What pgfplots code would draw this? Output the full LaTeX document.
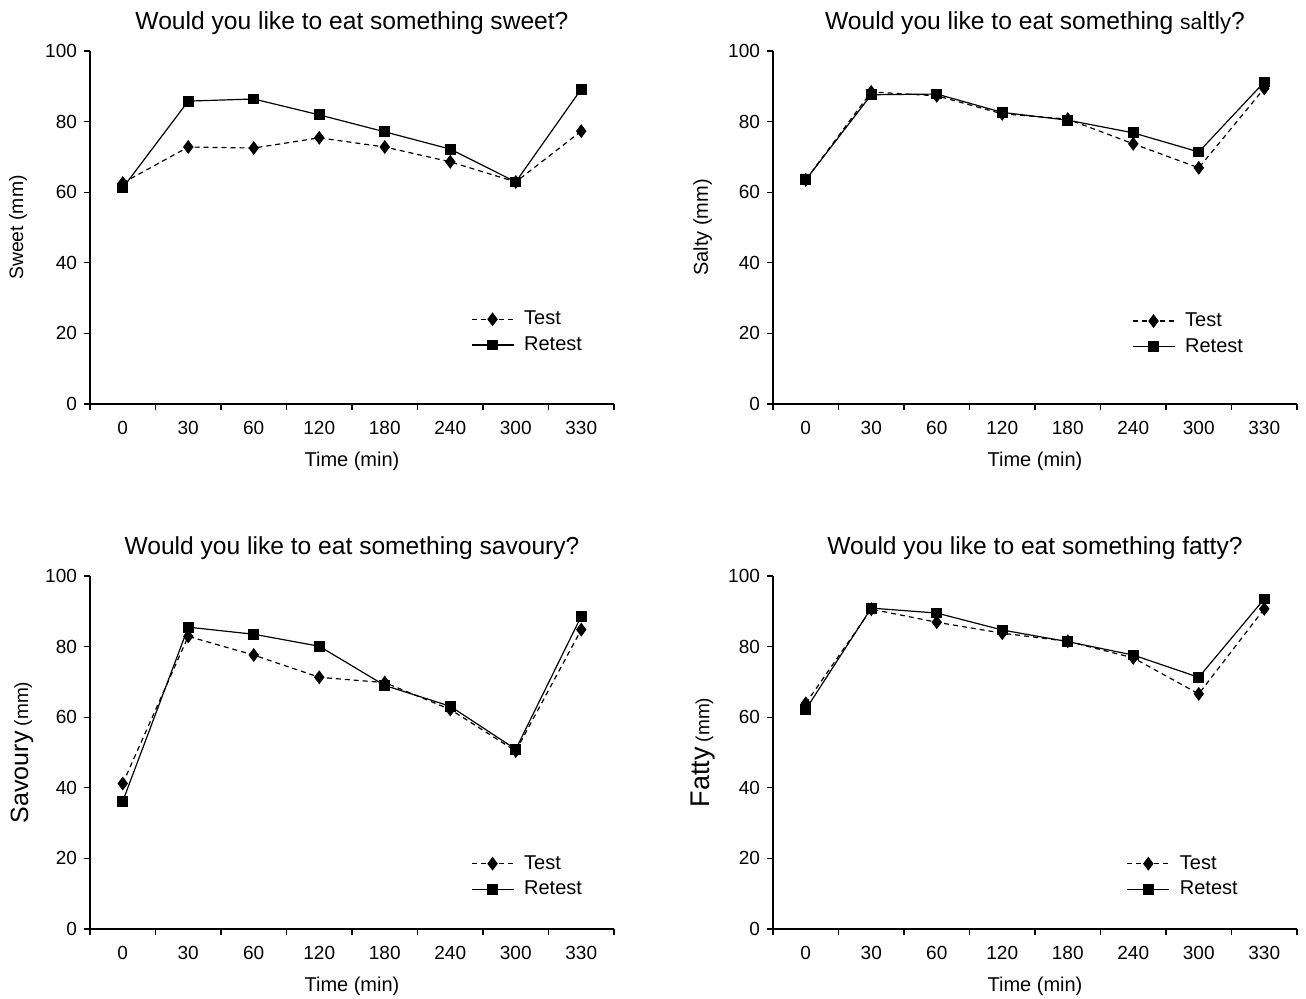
\documentclass[border=0pt]{standalone}
\usepackage{fontspec}
\setmainfont{Liberation Sans}
\usepackage{pgfplots}
\usepackage{pgfplotstable}
\pgfplotsset{compat=1.18}

% x: category index (0=0 min, 1=30, 2=60, 3=120, 4=180, 5=240, 6=300, 7=330), plotted at index+0.5
\pgfplotstableread{
x    test  retest
0.5  62.6  61.2
1.5  72.8  85.8
2.5  72.5  86.4
3.5  75.4  81.9
4.5  72.8  77.1
5.5  68.6  72.2
6.5  62.9  62.9
7.5  77.3  89.2
}\sweet
\pgfplotstableread{
x    test  retest
0.5  63.5  63.5
1.5  88.4  87.6
2.5  87.3  87.8
3.5  82.2  82.6
4.5  80.7  80.4
5.5  73.7  76.8
6.5  66.9  71.4
7.5  89.4  91.2
}\salty
\pgfplotstableread{
x    test  retest
0.5  41.2  36.2
1.5  82.9  85.5
2.5  77.6  83.5
3.5  71.3  80.1
4.5  69.8  69.0
5.5  62.2  63.1
6.5  50.4  50.9
7.5  84.8  88.6
}\savoury
\pgfplotstableread{
x    test  retest
0.5  63.9  62.2
1.5  90.6  90.9
2.5  86.9  89.5
3.5  83.8  84.7
4.5  81.5  81.4
5.5  76.8  77.6
6.5  66.6  71.3
7.5  90.7  93.5
}\fatty

\pgfplotsset{
  panel/.style={
    scale only axis, width=262pt, height=176.5pt,
    xmin=0, xmax=8, ymin=0, ymax=100,
    axis x line*=bottom, axis y line*=left,
    axis line style={black, line width=0.6pt, -},
    xtick={0.5,1.5,...,7.5},
    xticklabels={0,30,60,120,180,240,300,330},
    minor xtick={0,1,...,8},
    ytick={0,20,...,100},
    tick align=outside,
    major tick length=3pt, minor tick length=3pt,
    major x tick style={draw=none},
    minor x tick style={black, line width=0.6pt},
    major y tick style={black, line width=0.6pt},
    /pgf/number format/assume math mode=true,
    tick label style={font=\fontsize{9.5}{11}\selectfont},
    xticklabel style={yshift=-2pt},
    xlabel={Time (min)},
    xlabel style={at={(axis description cs:0.5,-0.162)}, anchor=center, font=\fontsize{10}{12}\selectfont},
    title style={at={(axis description cs:0.5,1)}, anchor=center, yshift=8pt, font=\fontsize{12.3}{14}\selectfont},
    legend cell align=left,
    legend style={draw=none, fill=none, inner sep=0pt, outer sep=0pt, anchor=north west,
      font=\fontsize{10}{12}\selectfont, row sep=0.5pt, column sep=3pt,
      nodes={inner sep=2pt}},
    legend image code/.code={\draw[mark repeat=2,mark phase=2,#1] plot coordinates {(0pt,0pt)(10.5pt,0pt)(21pt,0pt)};},
    clip=false,
  },
  test/.style={black, line width=0.6pt, dash pattern=on 2.5pt off 2pt, mark=diamond*, mark size=3pt, mark options={solid, fill=black}},
  retest/.style={black, line width=0.6pt, solid, mark=square*, mark size=2.4pt, mark options={solid, fill=black}},
}

\begin{document}
\begin{tikzpicture}
\useasboundingbox (0,0) rectangle (653pt,499.5pt);

% Top-left: sweet
\begin{axis}[panel, at={(45pt,297.5pt)}, anchor=south west,
  title={Would you like to eat something sweet?},
  ylabel={Sweet (mm)},
  ylabel style={at={(axis description cs:-0.137,0.5)}, anchor=center, font=\fontsize{9.7}{12}\selectfont},
  legend style={at={(axis description cs:0.727,0.275)}}]
\addplot[test] table[x=x, y=test] {\sweet};
\addplot[retest] table[x=x, y=retest] {\sweet};
\legend{Test, Retest}
\end{axis}

% Top-right: salty
\begin{axis}[panel, at={(386.5pt,297.5pt)}, anchor=south west,
  title={Would you like to eat something {\fontsize{10.5}{12}\selectfont sa}ltl{\fontsize{11}{12}\selectfont y}?},
  ylabel={Salty (mm)},
  ylabel style={at={(axis description cs:-0.134,0.5)}, anchor=center, font=\fontsize{10}{12}\selectfont},
  legend style={at={(axis description cs:0.685,0.27)}}]
\addplot[test] table[x=x, y=test] {\salty};
\addplot[retest] table[x=x, y=retest] {\salty};
\legend{Test, Retest}
\end{axis}

% Bottom-left: savoury
\begin{axis}[panel, at={(45pt,35pt)}, anchor=south west,
  title={Would you like to eat something savoury?},
  ylabel={{\fontsize{12.5}{14}\selectfont Savoury} (mm)},
  ylabel style={at={(axis description cs:-0.13,0.5)}, anchor=center, font=\fontsize{9.5}{12}\selectfont},
  legend style={at={(axis description cs:0.727,0.22)}}]
\addplot[test] table[x=x, y=test] {\savoury};
\addplot[retest] table[x=x, y=retest] {\savoury};
\legend{Test, Retest}
\end{axis}

% Bottom-right: fatty
\begin{axis}[panel, at={(386.5pt,35pt)}, anchor=south west,
  title={Would you like to eat something fatty?},
  ylabel={{\fontsize{13.5}{15}\selectfont Fatty} (mm)},
  ylabel style={at={(axis description cs:-0.134,0.5)}, anchor=center, font=\fontsize{9.5}{12}\selectfont},
  legend style={at={(axis description cs:0.675,0.22)}}]
\addplot[test] table[x=x, y=test] {\fatty};
\addplot[retest] table[x=x, y=retest] {\fatty};
\legend{Test, Retest}
\end{axis}
\end{tikzpicture}
\end{document}
